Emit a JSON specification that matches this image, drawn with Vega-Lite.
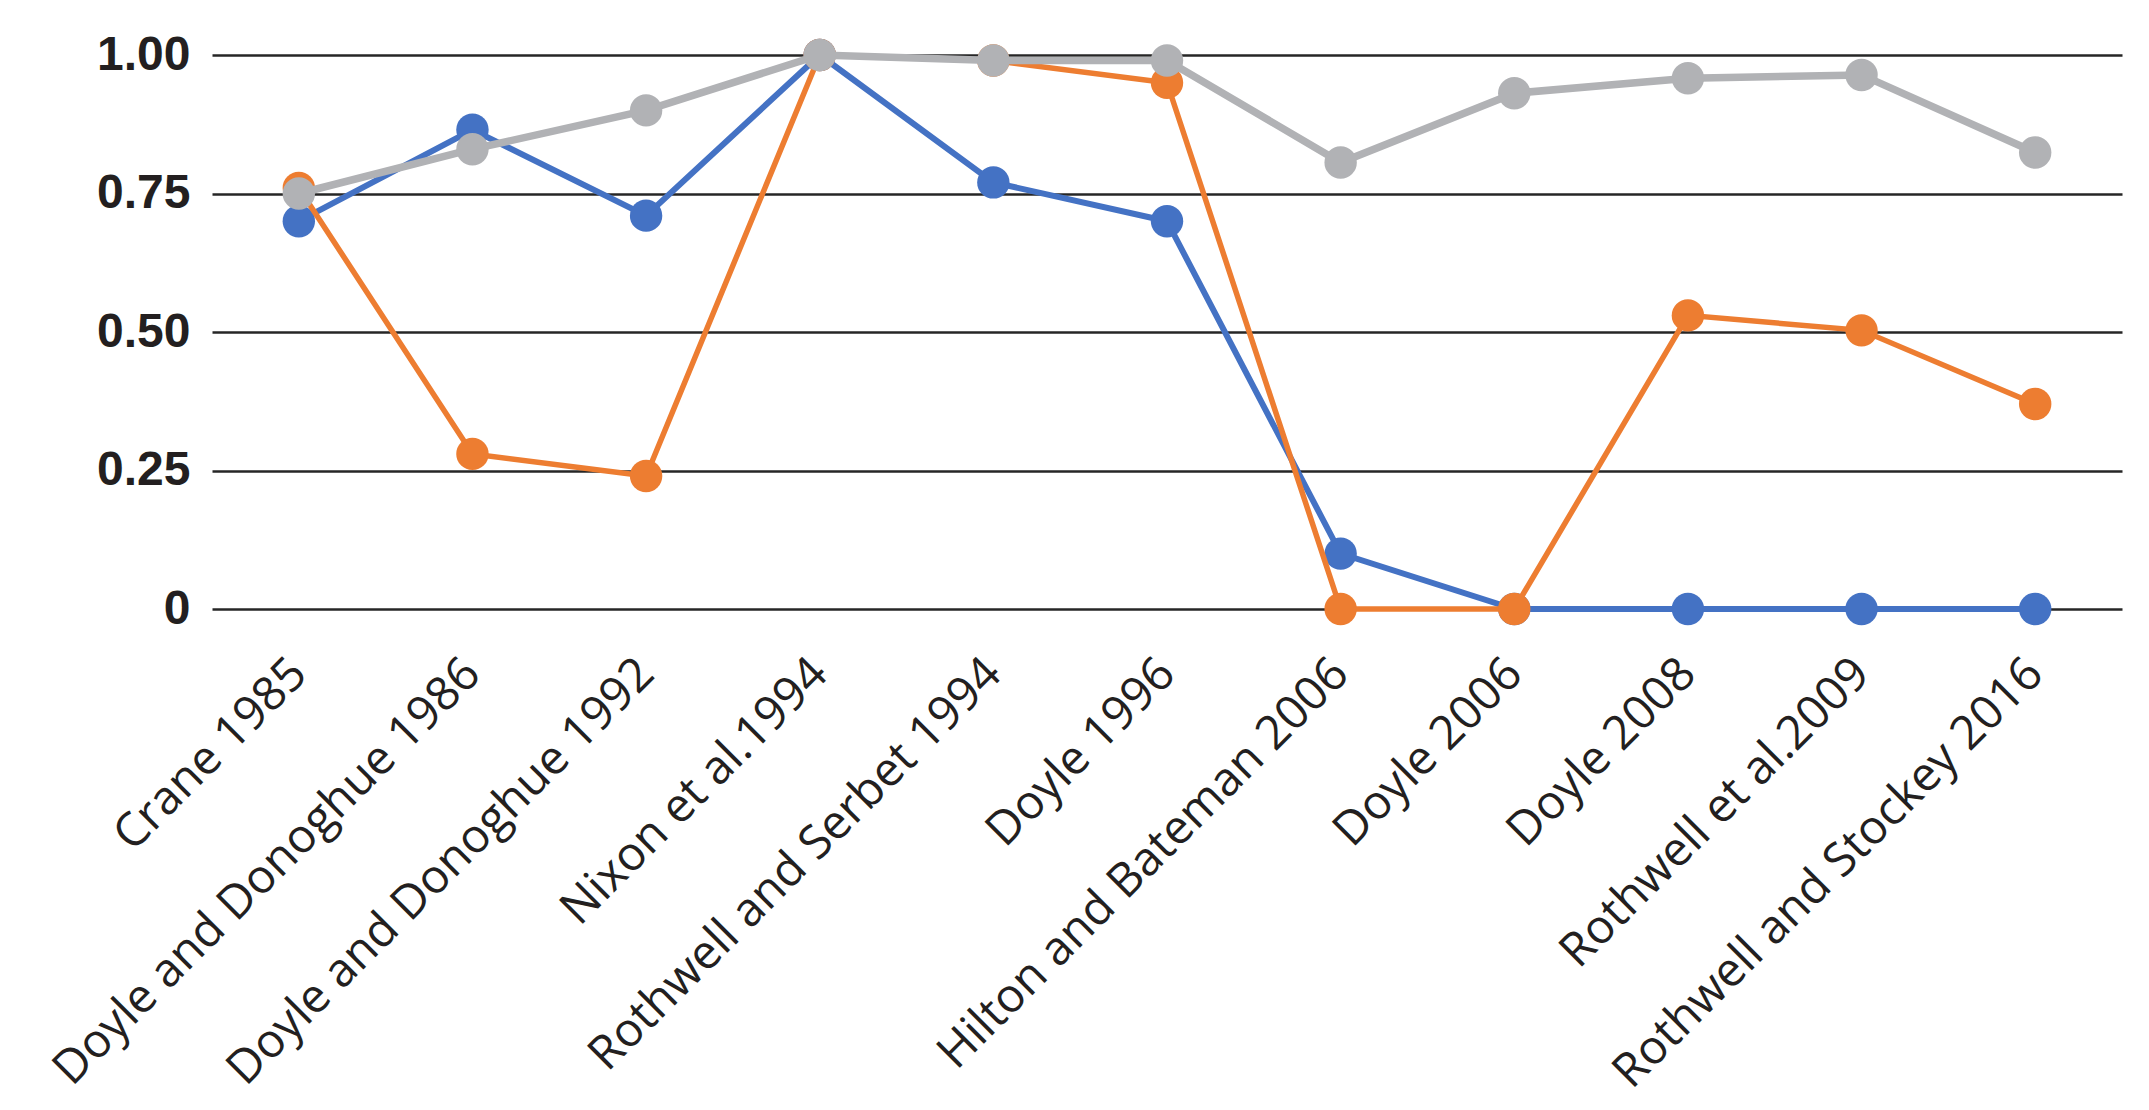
{
  "$schema": "https://vega.github.io/schema/vega-lite/v6.json",
  "autosize": "none",
  "width": 1910,
  "height": 554,
  "padding": {"left": 212, "top": 55, "right": 27, "bottom": 501},
  "background": "white",
  "config": {"view": {"stroke": null}},
  "data": {"values": [
    {"study": "Crane 1985", "series": "Series 1", "value": 0.70},
    {"study": "Doyle and Donoghue 1986", "series": "Series 1", "value": 0.865},
    {"study": "Doyle and Donoghue 1992", "series": "Series 1", "value": 0.71},
    {"study": "Nixon et al.1994", "series": "Series 1", "value": 1.0},
    {"study": "Rothwell and Serbet 1994", "series": "Series 1", "value": 0.77},
    {"study": "Doyle 1996", "series": "Series 1", "value": 0.70},
    {"study": "Hilton and Bateman 2006", "series": "Series 1", "value": 0.10},
    {"study": "Doyle 2006", "series": "Series 1", "value": 0},
    {"study": "Doyle 2008", "series": "Series 1", "value": 0},
    {"study": "Rothwell et al.2009", "series": "Series 1", "value": 0},
    {"study": "Rothwell and Stockey 2016", "series": "Series 1", "value": 0},
    {"study": "Crane 1985", "series": "Series 2", "value": 0.76},
    {"study": "Doyle and Donoghue 1986", "series": "Series 2", "value": 0.28},
    {"study": "Doyle and Donoghue 1992", "series": "Series 2", "value": 0.24},
    {"study": "Nixon et al.1994", "series": "Series 2", "value": 1.0},
    {"study": "Rothwell and Serbet 1994", "series": "Series 2", "value": 0.99},
    {"study": "Doyle 1996", "series": "Series 2", "value": 0.95},
    {"study": "Hilton and Bateman 2006", "series": "Series 2", "value": 0},
    {"study": "Doyle 2006", "series": "Series 2", "value": 0},
    {"study": "Doyle 2008", "series": "Series 2", "value": 0.53},
    {"study": "Rothwell et al.2009", "series": "Series 2", "value": 0.503},
    {"study": "Rothwell and Stockey 2016", "series": "Series 2", "value": 0.37},
    {"study": "Crane 1985", "series": "Series 3", "value": 0.75},
    {"study": "Doyle and Donoghue 1986", "series": "Series 3", "value": 0.83},
    {"study": "Doyle and Donoghue 1992", "series": "Series 3", "value": 0.90},
    {"study": "Nixon et al.1994", "series": "Series 3", "value": 1.0},
    {"study": "Rothwell and Serbet 1994", "series": "Series 3", "value": 0.99},
    {"study": "Doyle 1996", "series": "Series 3", "value": 0.99},
    {"study": "Hilton and Bateman 2006", "series": "Series 3", "value": 0.806},
    {"study": "Doyle 2006", "series": "Series 3", "value": 0.931},
    {"study": "Doyle 2008", "series": "Series 3", "value": 0.958},
    {"study": "Rothwell et al.2009", "series": "Series 3", "value": 0.964},
    {"study": "Rothwell and Stockey 2016", "series": "Series 3", "value": 0.824}
  ]},
  "encoding": {
    "x": {
      "field": "study", "type": "nominal", "sort": null,
      "scale": {"type": "point", "padding": 0.5},
      "axis": {
        "title": null, "domain": false, "ticks": false, "grid": false,
        "labelAngle": -45, "labelAlign": "right", "labelBaseline": "middle",
        "labelPadding": 57, "labelLimit": 2000,
        "labelFont": "Open Sans", "labelFontSize": 47, "labelColor": "#231F20"
      }
    },
    "y": {
      "field": "value", "type": "quantitative",
      "scale": {"domain": [0, 1], "nice": false, "zero": true},
      "axis": {
        "title": null, "domain": false, "ticks": false,
        "values": [0, 0.25, 0.5, 0.75, 1],
        "labelExpr": "datum.value == 0 ? '0' : format(datum.value, '.2f')",
        "labelFont": "Liberation Sans", "labelFontWeight": "bold", "labelFontSize": 48,
        "labelColor": "#231F20", "labelPadding": 22,
        "grid": true, "gridColor": "#262626", "gridWidth": 2.5, "gridOpacity": 1
      }
    }
  },
  "layer": [
    {"transform": [{"filter": "datum.series == 'Series 1'"}], "mark": {"type": "line", "color": "#4472C4", "strokeWidth": 6}},
    {"transform": [{"filter": "datum.series == 'Series 1'"}], "mark": {"type": "point", "filled": true, "color": "#4472C4", "size": 1050, "opacity": 1}},
    {"transform": [{"filter": "datum.series == 'Series 2'"}], "mark": {"type": "line", "color": "#ED7D31", "strokeWidth": 5.5}},
    {"transform": [{"filter": "datum.series == 'Series 2'"}], "mark": {"type": "point", "filled": true, "color": "#ED7D31", "size": 1050, "opacity": 1}},
    {"transform": [{"filter": "datum.series == 'Series 3'"}], "mark": {"type": "line", "color": "#B1B2B5", "strokeWidth": 7.5}},
    {"transform": [{"filter": "datum.series == 'Series 3'"}], "mark": {"type": "point", "filled": true, "color": "#B1B2B5", "size": 1050, "opacity": 1}}
  ]
}
